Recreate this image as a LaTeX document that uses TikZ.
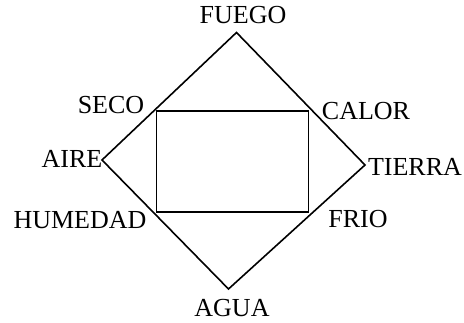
\documentclass[tikz,border=0pt]{standalone}
\usepackage{fontspec}
\setmainfont{Liberation Serif}
\usepackage{tikz}
\usetikzlibrary{positioning}

\begin{document}
\begin{tikzpicture}[x=1pt, y=-1pt, line width=1.6pt,
    lbl/.style={inner sep=0pt, anchor=base, font=\fontsize{26}{31}\selectfont}]
        \useasboundingbox (0,0) rectangle (464,323);
        % vertices of the diamond
        \coordinate (fuego) at (236.5,32.5);
        \coordinate (aire) at (102,160);
        \coordinate (tierra) at (365,165);
        \coordinate (agua) at (228.5,289);
        % corners of the inner box
        \coordinate (seco) at (156.5,111);
        \coordinate (calor) at (308.5,111);
        \coordinate (frio) at (308.5,212);
        \coordinate (humedad) at (156.5,212);
        \draw (fuego) -- (tierra) -- (agua) -- (aire) -- cycle;
        \draw (seco) -- (calor) -- (frio) -- (humedad) -- cycle;
        % labels
        \node[lbl] (tfuego) at (243,23.3) {FUEGO};
        \node[lbl] (tagua) at (232,317) {AGUA};
        \node[lbl] (taire) at (72,168) {AIRE};
        \node[lbl] (ttierra) at (415,176) {TIERRA};
        \node[lbl] (tseco) at (111,113.5) {SECO};
        \node[lbl] (tcalor) at (366,120) {CALOR};
        \node[lbl] (tfrio) at (358,228) {FRIO};
        \node[lbl] (thumedad) at (80,228.5) {HUMEDAD};
      \end{tikzpicture}
\end{document}
